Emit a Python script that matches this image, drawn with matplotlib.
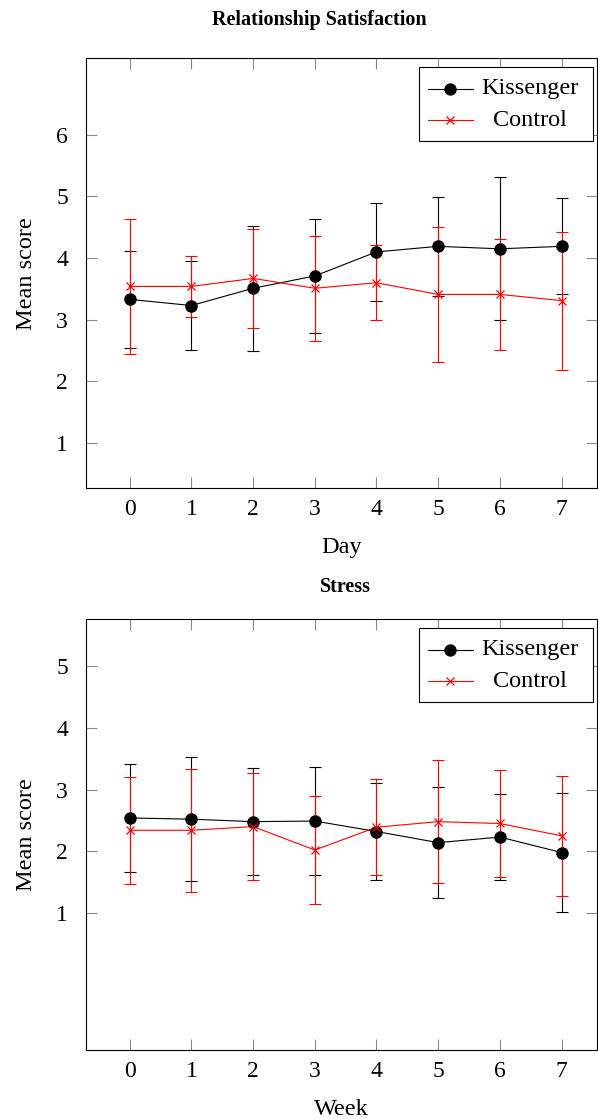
import numpy as np
import matplotlib
matplotlib.use('Agg')
import matplotlib.pyplot as plt
from matplotlib.lines import Line2D
from matplotlib.patches import Rectangle

plt.rcParams['font.family'] = ['Liberation Serif', 'DejaVu Serif']

#Data
days = [0, 1, 2, 3, 4, 5, 6, 7]
weeks = [0, 1, 2, 3, 4, 5, 6, 7]

rel_kiss_mean = [3.33, 3.23, 3.51, 3.71, 4.10, 4.19, 4.15, 4.19]
rel_kiss_err = [0.79, 0.72, 1.01, 0.92, 0.80, 0.80, 1.16, 0.78]
rel_ctrl_mean = [3.54, 3.54, 3.67, 3.51, 3.60, 3.41, 3.41, 3.31]
rel_ctrl_err = [1.09, 0.50, 0.80, 0.85, 0.61, 1.10, 0.90, 1.12]

str_kiss_mean = [2.54, 2.52, 2.48, 2.49, 2.32, 2.14, 2.23, 1.98]
str_kiss_err = [0.87, 1.00, 0.87, 0.87, 0.78, 0.90, 0.70, 0.97]
str_ctrl_mean = [2.34, 2.34, 2.40, 2.02, 2.39, 2.48, 2.45, 2.25]
str_ctrl_err = [0.87, 1.00, 0.87, 0.87, 0.78, 1.00, 0.87, 0.97]

series_names = ['Kissenger', 'Control']
rel_yticks = [1, 2, 3, 4, 5, 6]
str_yticks = [1, 2, 3, 4, 5]


def draw_panel(ax, x, k_mean, k_err, c_mean, c_err, ylim, yticks, xlabel):
    ax.errorbar(x, k_mean, yerr=k_err, color='black', lw=0.8, elinewidth=0.8,
                capsize=4, capthick=0.8, zorder=2)
    ax.errorbar(x, c_mean, yerr=c_err, color='red', lw=0.8, elinewidth=0.8,
                capsize=4, capthick=0.8, zorder=3)
    ax.plot(x, k_mean, 'o', color='black', ms=8, zorder=4)
    ax.plot(x, c_mean, 'x', color='red', ms=6, mew=0.9, zorder=5)

    ax.set_xlim(-0.71, 7.58)
    ax.set_ylim(*ylim)
    ax.set_xticks(x)
    ax.set_yticks(yticks)
    ax.tick_params(direction='in', length=8, width=0.8, color='#888888',
                   top=True, right=True, labelsize=17)
    ax.tick_params(axis='x', pad=8)
    ax.tick_params(axis='y', pad=13)
    for sp in ax.spines.values():
        sp.set_linewidth(0.8)

    ax.set_xlabel(xlabel, fontsize=17.5)
    ax.xaxis.set_label_coords(0.5, -0.114)
    ax.set_ylabel('Mean score', fontsize=17.5)
    ax.yaxis.set_label_coords(-0.095, 0.5)

    #legend drawn by hand so the labels are centred like the original
    tr = ax.transAxes
    ax.add_patch(Rectangle((0.652, 0.808), 0.340, 0.171, transform=tr,
                           facecolor='white', edgecolor='black', lw=0.8, zorder=6))
    rows = [(0.929, 'black', 'o', 8), (0.856, 'red', 'x', 6)]
    for (yy, col, mk, ms), name in zip(rows, series_names):
        ax.add_line(Line2D([0.669, 0.756], [yy, yy], transform=tr, color=col,
                           lw=0.8, zorder=7))
        ax.add_line(Line2D([0.712], [yy], transform=tr, color=col, marker=mk,
                           ms=ms, mew=0.9, zorder=8))
        ax.text(0.868, yy, name, transform=tr, ha='center', va='center',
                fontsize=17.5, zorder=8)


fig = plt.figure(figsize=(5.98, 11.19), dpi=100)
ax1 = fig.add_axes([0.1438, 0.5636, 0.855, 0.3843])
ax2 = fig.add_axes([0.1438, 0.0617, 0.855, 0.3849])

draw_panel(ax1, days, rel_kiss_mean, rel_kiss_err, rel_ctrl_mean, rel_ctrl_err,
           (0.265, 7.24), rel_yticks, 'Day')
draw_panel(ax2, weeks, str_kiss_mean, str_kiss_err, str_ctrl_mean, str_ctrl_err,
           (-1.22, 5.76), str_yticks, 'Week')

fig.text(319 / 598, 1 - 20 / 1119, 'Relationship Satisfaction', ha='center',
         va='center', fontsize=14.5, fontweight='bold')
fig.text(345 / 598, 1 - 587 / 1119, 'Stress', ha='center', va='center',
         fontsize=14.5, fontweight='bold')

fig.savefig('out.png', dpi=100)
